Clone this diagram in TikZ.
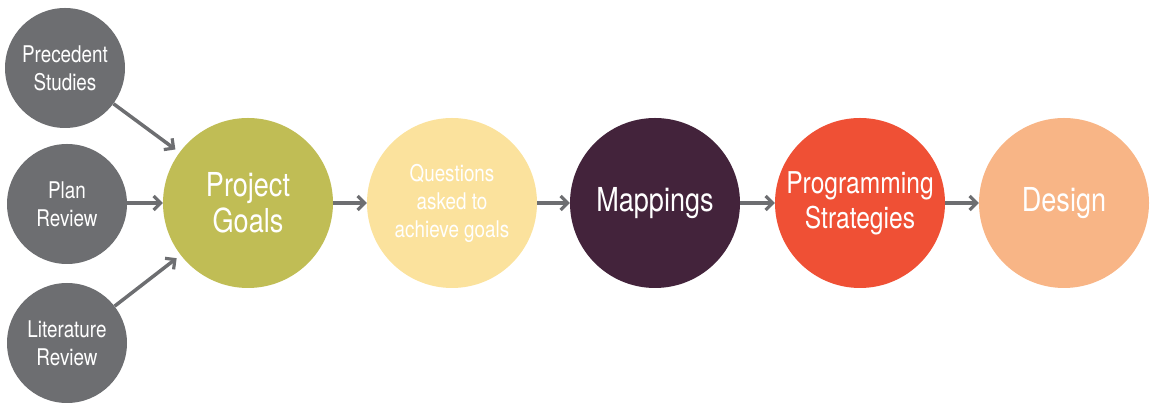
\documentclass[tikz,border=0pt]{standalone}
\usepackage{fontspec}
\setmainfont{TeX Gyre Heros}[FakeStretch=0.82]
\usetikzlibrary{arrows.meta}
\definecolor{cgray}{HTML}{6D6E71}
\definecolor{colive}{HTML}{C0BD55}
\definecolor{cyellow}{HTML}{FBE29D}
\definecolor{cpurple}{HTML}{43233B}
\definecolor{cred}{HTML}{EF5035}
\definecolor{cpeach}{HTML}{F8B586}
\tikzset{
  x=1pt,y=1pt,
  bub/.style={circle,inner sep=0pt,minimum size=#1,text=white,align=center},
  small/.style={bub=120pt,fill=cgray,font=\fontsize{23}{28}\selectfont},
  big/.style={bub=170pt,font=\fontsize{33}{36}\selectfont},
  arr/.style={draw=cgray,line width=3.5pt,-{Straight Barb[length=7pt,width=14pt,line width=3.2pt]}}
}
\begin{document}
\begin{tikzpicture}
\useasboundingbox (0,0) rectangle (1151,403);
\node[small] (prec) at (65,335) {Precedent\\Studies};
\node[small] (plan) at (67,199) {Plan\\Review};
\node[small] (lit) at (67,60) {Literature\\Review};
\node[big,fill=colive] (goal) at (248,200) {Project\\Goals};
\node[big,fill=cyellow,font=\fontsize{23}{28}\selectfont] (quest) at (452,200) {Questions\\asked to\\achieve goals};
\node[big,fill=cpurple] (map) at (655,200) {Mappings};
\node[big,fill=cred,font=\fontsize{30}{35}\selectfont] (prog) at (860,200) {Programming\\Strategies};
\node[big,fill=cpeach] (des) at (1064,200) {Design};
\draw[arr,shorten >=5pt] (prec) -- (goal);
\draw[arr] (plan.east |- goal) -- (goal);
\draw[arr,shorten >=5pt] (lit) -- (goal);
\draw[arr] (goal) -- (quest);
\draw[arr] (quest) -- (map);
\draw[arr] (map) -- (prog);
\draw[arr] (prog) -- (des);
\end{tikzpicture}
\end{document}
